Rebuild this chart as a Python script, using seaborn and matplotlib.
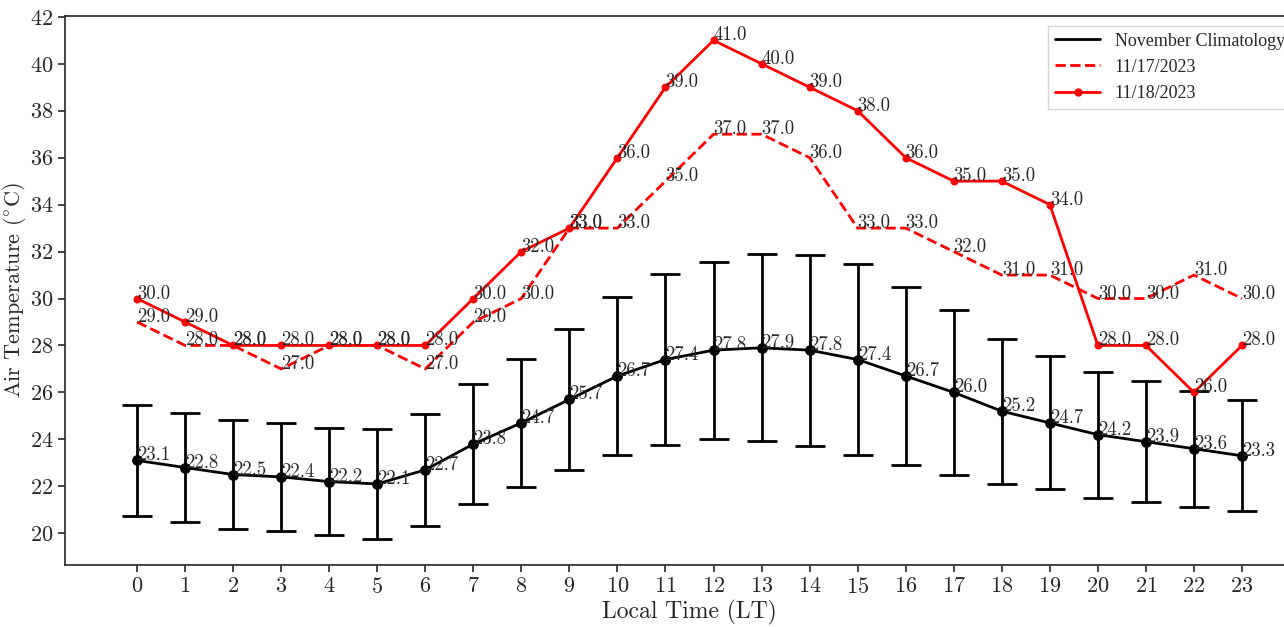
import numpy as np
import pandas as pd
import matplotlib
matplotlib.use('Agg')
import matplotlib.pyplot as plt
from matplotlib.lines import Line2D
import seaborn as sns

hours = list(range(24))
clim = [23.1, 22.8, 22.5, 22.4, 22.2, 22.1, 22.7, 23.8, 24.7, 25.7, 26.7, 27.4,
        27.8, 27.9, 27.8, 27.4, 26.7, 26.0, 25.2, 24.7, 24.2, 23.9, 23.6, 23.3]
clim_std = [2.35, 2.32, 2.33, 2.29, 2.28, 2.33, 2.38, 2.57, 2.74, 3.0, 3.36, 3.64,
            3.77, 3.99, 4.07, 4.05, 3.81, 3.5, 3.09, 2.83, 2.69, 2.57, 2.48, 2.36]
nov17 = [29, 28, 28, 27, 28, 28, 27, 29, 30, 33, 33, 35,
         37, 37, 36, 33, 33, 32, 31, 31, 30, 30, 31, 30]
nov18 = [30, 29, 28, 28, 28, 28, 28, 30, 32, 33, 36, 39,
         41, 40, 39, 38, 36, 35, 35, 34, 28, 28, 26, 28]

df = pd.DataFrame({'hour': hours, 'clim': clim, 'std': clim_std,
                   'nov17': nov17, 'nov18': nov18})

sns.set_style('ticks')
plt.rcParams['font.family'] = ['cmr10', 'DejaVu Serif']
plt.rcParams['mathtext.fontset'] = 'cm'
plt.rcParams['axes.unicode_minus'] = False
plt.rcParams['axes.formatter.use_mathtext'] = True

fig = plt.figure(figsize=(12.84, 6.27), dpi=100)
# right side of the axes runs past the figure edge, as in the cropped original
ax = fig.add_axes([0.0506, 0.099, 0.9728, 0.876])

# climatology with error bars
ax.errorbar(df['hour'], df['clim'], yerr=df['std'], fmt='none', ecolor='black',
            elinewidth=2, capsize=11, capthick=2, zorder=2)
sns.lineplot(data=df, x='hour', y='clim', color='black', lw=2, marker='o',
             markersize=7, markeredgecolor='black', ax=ax, zorder=3)
sns.lineplot(data=df, x='hour', y='nov17', color='red', lw=2, linestyle='--',
             ax=ax, zorder=3)
sns.lineplot(data=df, x='hour', y='nov18', color='red', lw=2, marker='o',
             markersize=5, markeredgecolor='red', ax=ax, zorder=4)

for col in ['clim', 'nov17', 'nov18']:
    for h, v in zip(df['hour'], df[col]):
        ax.text(h, v, f'{v:.1f}', fontsize=13.5, ha='left', va='baseline', zorder=5)

ax.set_xlim(-1.5, 24.5)
ax.set_ylim(18.65, 42.05)
ax.set_xticks(hours)
ax.set_yticks(range(20, 43, 2))
ax.tick_params(labelsize=16, width=1.2, length=5)
for s in ax.spines.values():
    s.set_linewidth(1.2)
ax.set_xlabel('Local Time (LT)', fontsize=17, labelpad=2)
ax.set_ylabel(r'Air Temperature ($^{\circ}$C)', fontsize=16, labelpad=1)

handles = [Line2D([], [], color='black', lw=2),
           Line2D([], [], color='red', lw=2, linestyle='--'),
           Line2D([], [], color='red', lw=2, marker='o', markersize=5)]
labels = ['November Climatology', '11/17/2023', '11/18/2023']
ax.legend(handles, labels, loc='upper left', bbox_to_anchor=(0.787, 0.982),
          borderaxespad=0, prop={'family': 'Liberation Serif', 'size': 13},
          frameon=True, fancybox=False, edgecolor='#cccccc', handlelength=2.5)

fig.savefig('out.png', dpi=100)
